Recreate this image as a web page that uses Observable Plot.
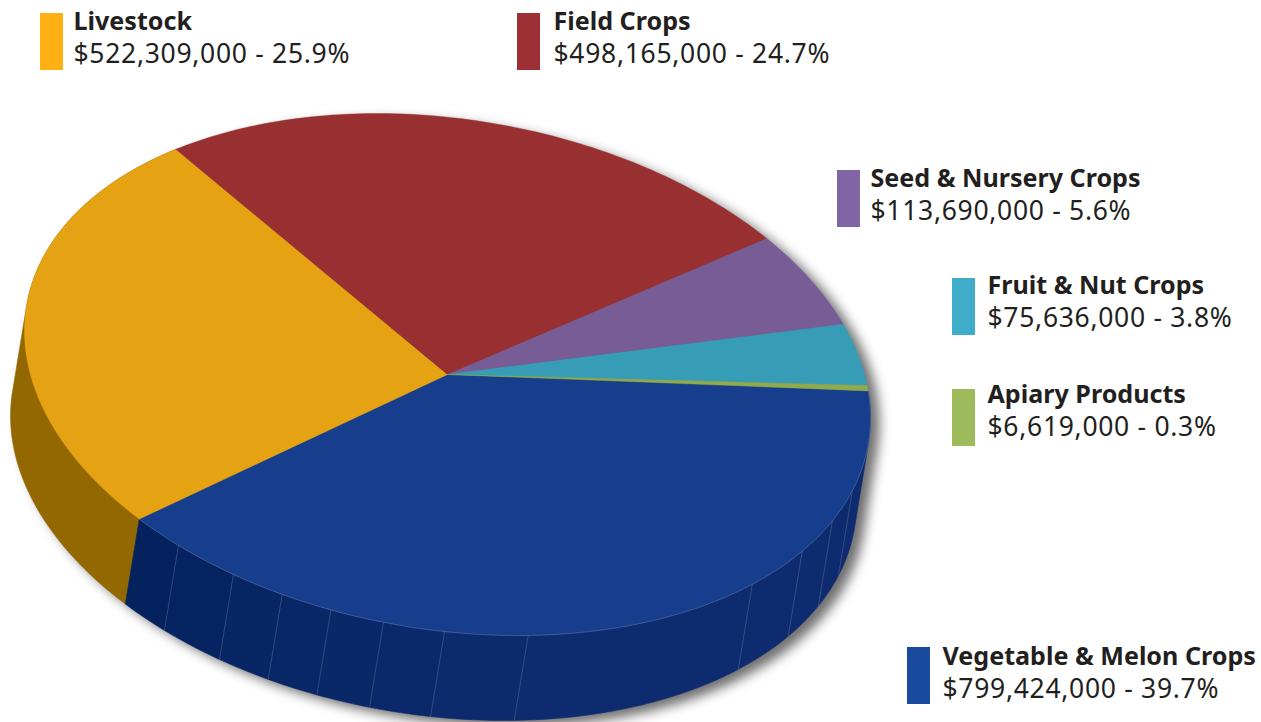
<!DOCTYPE html>
<html>
<head>
<meta charset="utf-8">
<script src="https://cdn.jsdelivr.net/npm/d3@7"></script>
<script src="https://cdn.jsdelivr.net/npm/@observablehq/plot@0.6"></script>
<style>
html,body{margin:0;padding:0;background:#fff;overflow:hidden}
svg{display:block}
</style>
</head>
<body>
<div id="chart"></div>
<script>
// ---- data, in drawing order starting at the right edge of the pie, clockwise on screen
const categories = ["Vegetable & Melon Crops", "Livestock", "Field Crops", "Seed & Nursery Crops", "Fruit & Nut Crops", "Apiary Products"];
const dollars = [799424000, 522309000, 498165000, 113690000, 75636000, 6619000];
const percents = [39.7, 25.9, 24.7, 5.6, 3.8, 0.3];

// ---- panel seams read from the rim of the vegetable wedge, degrees around the pie
const seamAngles = [16.8, 24.5, 33, 43.9, 79, 90.4, 98.7, 106, 113, 120.4, 129.5];

// ---- styles
const topColors = ["#163e8d", "#e5a314", "#982f30", "#785c96", "#379db7", "#8fab4e"];
const swatchColors = ["#1a4a9e", "#ffb013", "#9d3035", "#8164a4", "#3fadc9", "#9dbb5a"];
const sideLivestock = "#936800";
const textColor = "#231f20";
const shadowFill = "#6f6f70";
const fontFamily = "'Noto Sans', sans-serif";

// ---- layout
const W = 1261, H = 722;
const legendLeft = [907, 40, 517, 837, 952, 952];
const legendTop = [647, 13, 13, 170, 278, 389];
const textLeft = [942, 73, 553, 870, 987, 987];
const titleBase = [664.5, 29, 29, 186.5, 293.7, 402.7];
const valueBase = [697.5, 62, 62, 219.5, 326.7, 435.7];
const pie = {cx: 447, cy: 374, a: 423, b: 261, skew: 9.6, start: -6, dx: -14, dy: 85};

const rad = d => d * Math.PI / 180;
const rim = (deg, depth = 0) => ({
  x: pie.cx + pie.a * Math.cos(rad(deg)) + depth * pie.dx,
  y: pie.cy + pie.b * Math.sin(rad(deg + pie.skew)) + depth * pie.dy
});
const arc = (t0, t1, depth = 0) => {
  const n = Math.max(2, Math.ceil(Math.abs(t1 - t0)));
  return d3.range(n + 1).map(i => rim(t0 + (t1 - t0) * i / n, depth));
};

const total = d3.sum(dollars);
let acc = pie.start;
const slices = categories.map((name, i) => {
  const t0 = acc;
  acc += dollars[i] / total * 360;
  return {name, t0, t1: acc, i};
});

const xy = {x: "x", y: "y"};
const wedge = s => [{x: pie.cx, y: pie.cy}, ...arc(s.t0, s.t1), {x: pie.cx, y: pie.cy}];
const hullOf = (pts, ox = 0, oy = 0) => {
  const h = d3.polygonHull(pts.map(p => [p.x, p.y])).map(([x, y]) => ({x: x + ox, y: y + oy}));
  h.push(h[0]);
  return h;
};
// the side wall of an arc: the top rim swept down to the bottom rim, tangent edges included
const band = (t0, t1) => hullOf([...arc(t0, t1, 0), ...arc(t0, t1, 1)]);

// outline of the whole disc, for the shadow
const hullPts = hullOf([...arc(0, 360, 0), ...arc(0, 360, 1)], 9, 6);

const veg = slices[0], live = slices[1];
const stops = [veg.t0, ...seamAngles, veg.t1];
const panelColor = d3.interpolateRgb("#0e2b6f", "#05225f");

const marks = [
  Plot.line(hullPts, {...xy, fill: shadowFill, stroke: "none"}),
  Plot.line(band(live.t0, live.t1), {...xy, fill: sideLivestock, stroke: sideLivestock, strokeWidth: 0.5}),
  ...d3.pairs(stops).map(([a, b], i) => {
    const c = panelColor(Math.max(0, i - 4) / (stops.length - 6));
    return Plot.line(band(a, b), {...xy, fill: c, stroke: c, strokeWidth: 0.6});
  }),
  ...seamAngles.map(t => Plot.line([rim(t, 0), rim(t, 1)], {
    ...xy, stroke: "#8b97b5", strokeOpacity: 0.4, strokeWidth: 0.8, strokeDasharray: "3 1"
  })),
  ...slices.map(s => Plot.line(wedge(s), {
    ...xy, fill: topColors[s.i], stroke: topColors[s.i], strokeWidth: 0.4
  })),
  Plot.line(arc(veg.t0, veg.t1), {...xy, stroke: "#9aa6c4", strokeOpacity: 0.45, strokeWidth: 0.7}),
  Plot.rect(categories.map((name, i) => i), {
    x1: i => legendLeft[i], x2: i => legendLeft[i] + 23,
    y1: i => legendTop[i], y2: i => legendTop[i] + 57,
    fill: i => swatchColors[i]
  }),
  Plot.text(categories, {
    x: (d, i) => textLeft[i], y: (d, i) => titleBase[i],
    text: d => d, textAnchor: "start", lineAnchor: "bottom",
    fontFamily, fontSize: 25.1, fontWeight: 700, fill: textColor
  }),
  Plot.text(categories, {
    x: (d, i) => textLeft[i], y: (d, i) => valueBase[i],
    text: (d, i) => `$${d3.format(",")(dollars[i])} - ${percents[i].toFixed(1)}%`,
    textAnchor: "start", lineAnchor: "bottom",
    fontFamily, fontSize: 26.5, fontWeight: 400, fill: textColor
  })
];

const plot = Plot.plot({
  width: W, height: H,
  marginTop: 0, marginRight: 0, marginBottom: 0, marginLeft: 0,
  x: {domain: [0, W], range: [0, W], axis: null},
  y: {domain: [0, H], range: [0, H], axis: null},
  color: {type: "identity"},
  marks
});
plot.querySelectorAll(`[fill="${shadowFill}"]`).forEach(el => { el.style.filter = "blur(6px)"; });
plot.querySelectorAll(`[font-weight="400"], [font-weight="400"] text`).forEach(el => { el.style.letterSpacing = "0.7px"; });
plot.style.overflow = "hidden";
document.getElementById("chart").appendChild(plot);
</script>
</body>
</html>
